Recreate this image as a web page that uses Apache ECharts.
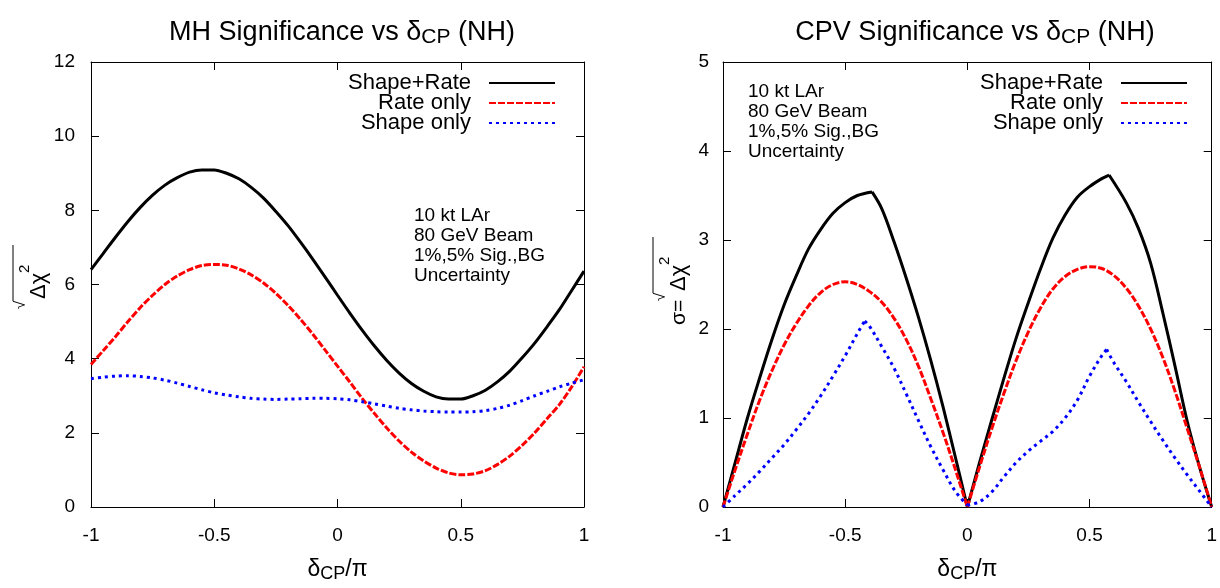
<!DOCTYPE html>
<html><head><meta charset="utf-8">
<script src="https://cdn.jsdelivr.net/npm/echarts@6/dist/echarts.min.js"></script>
<style>html,body{margin:0;padding:0;background:#fff}#c{width:1220px;height:588px}</style>
</head><body><div id="c"></div>
<script>
// ---- data: MH significance (left panel) ----
const mhX = [-1,-0.95,-0.9,-0.85,-0.8,-0.75,-0.7,-0.65,-0.6,-0.55,-0.5,-0.45,-0.4,-0.35,-0.3,-0.25,-0.2,-0.15,-0.1,-0.05,0,0.05,0.1,0.15,0.2,0.25,0.3,0.35,0.4,0.45,0.5,0.55,0.6,0.65,0.7,0.75,0.8,0.85,0.9,0.95,1];
const mhShapeRate = [6.40,6.84,7.28,7.70,8.08,8.41,8.68,8.88,9.03,9.09,9.09,9.00,8.85,8.62,8.33,7.97,7.58,7.14,6.68,6.20,5.71,5.23,4.77,4.34,3.95,3.61,3.33,3.12,2.97,2.91,2.91,3.00,3.15,3.38,3.67,4.03,4.42,4.86,5.32,5.84,6.36];
const mhRateOnly = [3.84,4.22,4.60,5.00,5.38,5.71,6.00,6.23,6.40,6.51,6.54,6.52,6.42,6.26,6.04,5.76,5.43,5.06,4.66,4.23,3.80,3.37,2.93,2.52,2.13,1.78,1.48,1.24,1.05,0.92,0.87,0.89,0.98,1.15,1.38,1.67,2.00,2.38,2.76,3.24,3.78];
const mhShapeOnly = [3.46,3.50,3.53,3.54,3.52,3.48,3.42,3.34,3.25,3.16,3.08,3.02,2.97,2.93,2.91,2.90,2.91,2.92,2.93,2.93,2.92,2.89,2.84,2.78,2.72,2.66,2.62,2.59,2.57,2.56,2.56,2.57,2.60,2.66,2.75,2.87,3.00,3.12,3.24,3.34,3.43];

// ---- data: CPV significance (right panel) ----
const cpvSRX = [-1,-0.95,-0.9,-0.85,-0.8,-0.75,-0.7,-0.65,-0.6,-0.55,-0.5,-0.45,-0.39,-0.35,-0.3,-0.25,-0.2,-0.15,-0.1,-0.05,0,0.05,0.1,0.15,0.2,0.25,0.3,0.35,0.4,0.45,0.5,0.55,0.58,0.65,0.7,0.75,0.8,0.85,0.9,0.95,1];
const cpvShapeRate = [0,0.50,1.00,1.45,1.88,2.27,2.60,2.90,3.12,3.30,3.42,3.50,3.54,3.35,2.98,2.57,2.13,1.65,1.13,0.57,0,0.50,0.98,1.45,1.90,2.30,2.68,3.02,3.28,3.48,3.60,3.69,3.73,3.42,3.13,2.74,2.18,1.58,0.96,0.45,0];
const cpvSRKinks = [-0.39, 0, 0.58];
const cpvRX = [-1,-0.95,-0.9,-0.85,-0.8,-0.75,-0.7,-0.65,-0.6,-0.55,-0.5,-0.45,-0.4,-0.35,-0.3,-0.25,-0.2,-0.15,-0.1,-0.05,0,0.05,0.1,0.15,0.2,0.25,0.3,0.35,0.4,0.45,0.5,0.55,0.6,0.65,0.7,0.75,0.8,0.85,0.9,0.95,1];
const cpvRateOnly = [0,0.42,0.82,1.20,1.53,1.82,2.06,2.26,2.41,2.50,2.53,2.50,2.42,2.30,2.12,1.88,1.58,1.22,0.84,0.43,0,0.45,0.88,1.28,1.65,1.97,2.24,2.45,2.59,2.67,2.70,2.68,2.60,2.46,2.26,2.00,1.68,1.30,0.88,0.45,0];
const cpvRKinks = [0];
const cpvSX = [-1,-0.95,-0.9,-0.85,-0.8,-0.75,-0.7,-0.65,-0.6,-0.55,-0.5,-0.45,-0.42,-0.4,-0.35,-0.3,-0.25,-0.2,-0.15,-0.1,-0.05,0,0.05,0.1,0.15,0.2,0.25,0.3,0.35,0.4,0.45,0.5,0.55,0.57,0.6,0.65,0.7,0.75,0.8,0.85,0.9,0.95,1];
const cpvShapeOnly = [0,0.13,0.26,0.40,0.55,0.70,0.87,1.05,1.25,1.47,1.70,1.95,2.09,2.03,1.80,1.56,1.27,0.97,0.68,0.42,0.18,0.02,0.06,0.17,0.34,0.50,0.63,0.74,0.85,1.00,1.20,1.47,1.70,1.77,1.62,1.41,1.18,0.96,0.75,0.55,0.36,0.18,0];
const cpvSKinks = [-0.42, 0, 0.57];

const seriesNames = ['Shape+Rate','Rate only','Shape only'];
const noteLines = ['10 kt LAr','80 GeV Beam','1%,5% Sig.,BG','Uncertainty'];

const FONT = 'Liberation Sans';
const zip = (xs, ys) => xs.map((x, i) => [x, ys[i]]);
// split a curve into pieces at its kink points (kink point belongs to both pieces)
function pieces(xs, ys, kinks){
  const out = []; let cur = [];
  xs.forEach((x, i) => {
    cur.push([x, ys[i]]);
    if (kinks.indexOf(x) >= 0 && cur.length > 1) { out.push(cur); cur = [[x, ys[i]]]; }
  });
  if (cur.length > 1) out.push(cur);
  return out;
}

const styles = [
  {color:'#000000', width:3, type:'solid'},
  {color:'#ff0000', width:3, type:[7,2]},
  {color:'#0000ff', width:3, type:[3,4]}
];

function xAxes(g){
  const base = {gridIndex:g, type:'value', min:-1, max:1, interval:0.5,
    axisLine:{show:true, onZero:false, lineStyle:{color:'#000', width:1}},
    axisTick:{show:true, inside:true, length:8, lineStyle:{color:'#000', width:1}},
    splitLine:{show:false}};
  return [
    Object.assign({}, base, {position:'bottom',
      axisLabel:{show:true, color:'#000', fontFamily:FONT, fontSize:19, margin:19},
      name:'{a|δ}{s|CP}{a|/π}', nameLocation:'middle', nameGap:50,
      nameTextStyle:{rich:{a:{fontFamily:FONT, fontSize:23, color:'#000', lineHeight:26},
                           s:{fontFamily:FONT, fontSize:18, color:'#000', lineHeight:14, verticalAlign:'bottom'}}}}),
    Object.assign({}, base, {position:'top', axisLabel:{show:false}})
  ];
}
function yAxes(g, max, step, margin){
  const base = {gridIndex:g, type:'value', min:0, max:max, interval:step,
    axisLine:{show:true, onZero:false, lineStyle:{color:'#000', width:1}},
    axisTick:{show:true, inside:true, length:8, lineStyle:{color:'#000', width:1}},
    splitLine:{show:false}};
  return [
    Object.assign({}, base, {position:'left', axisLabel:{show:true, color:'#000', fontFamily:FONT, fontSize:19, margin:margin}}),
    Object.assign({}, base, {position:'right', axisLabel:{show:false}})
  ];
}
function mkSeries(name, data, xi, yi, st, smooth){
  return {name:name, type:'line', xAxisIndex:xi, yAxisIndex:yi, data:data, smooth:smooth,
    symbol:'none', showSymbol:false, clip:true, animation:false,
    lineStyle:{color:st.color, width:st.width, type:st.type}, itemStyle:{color:st.color}};
}
function legend(right){
  return {data:seriesNames, orient:'vertical', right:right, top:72, align:'right', padding:0,
    itemWidth:66, itemHeight:14, itemGap:-2, selectedMode:false,
    itemStyle:{opacity:0},
    textStyle:{fontFamily:FONT, fontSize:22, color:'#000', padding:[0,13,0,0]}};
}
function titleOpt(txt, cx){
  return {text:'{a|' + txt + ' δ}{s|CP}{a| (NH)}', left:cx, top:13, textAlign:'center',
    textStyle:{rich:{a:{fontFamily:FONT, fontSize:27, fontWeight:'normal', color:'#000', lineHeight:30},
                     s:{fontFamily:FONT, fontSize:21, fontWeight:'normal', color:'#000', lineHeight:16, verticalAlign:'bottom'}}}};
}
function yName(x, y, withSigma){
  const f = (s) => s + 'px ' + FONT;
  const ch = [];
  let u = 2;
  if (withSigma) {
    ch.push({type:'text', x:u, y:-8, style:{text:'σ=', font:f(21), fill:'#000', verticalAlign:'middle', align:'left'}});
    u += 30;
  }
  ch.push({type:'text', x:u-6, y:-26, style:{text:'√', font:f(15), fill:'#000', verticalAlign:'middle', align:'left'}});
  ch.push({type:'line', shape:{x1:u+2, y1:-34, x2:u+58, y2:-34}, style:{stroke:'#000', lineWidth:1}});
  ch.push({type:'text', x:u+4, y:-8, style:{text:'Δχ', font:f(22), fill:'#000', verticalAlign:'middle', align:'left'}});
  ch.push({type:'text', x:u+30, y:-22, style:{text:'2', font:f(15), fill:'#000', verticalAlign:'middle', align:'left'}});
  return {type:'group', x:x, y:y, rotation:Math.PI/2, children:ch};
}

const series = [
  mkSeries(seriesNames[0], zip(mhX, mhShapeRate), 0, 0, styles[0], 0.3),
  mkSeries(seriesNames[1], zip(mhX, mhRateOnly), 0, 0, styles[1], 0.3),
  mkSeries(seriesNames[2], zip(mhX, mhShapeOnly), 0, 0, styles[2], 0.3)
];
pieces(cpvSRX, cpvShapeRate, cpvSRKinks).forEach(p => series.push(mkSeries(seriesNames[0], p, 2, 2, styles[0], 0.35)));
pieces(cpvRX, cpvRateOnly, cpvRKinks).forEach(p => series.push(mkSeries(seriesNames[1], p, 2, 2, styles[1], 0.35)));
pieces(cpvSX, cpvShapeOnly, cpvSKinks).forEach(p => series.push(mkSeries(seriesNames[2], p, 2, 2, styles[2], 0.35)));

const chart = echarts.init(document.getElementById('c'), null, {renderer:'canvas'});
chart.setOption({
  backgroundColor:'#ffffff',
  animation:false,
  title:[titleOpt('MH Significance vs', 337), titleOpt('CPV Significance vs', 970)],
  legend:[legend(664), legend(32)],
  grid:[
    {left:91, right:636, top:62, bottom:78, containLabel:false},
    {left:723, right:4, top:62, bottom:78, containLabel:false}
  ],
  xAxis:[...xAxes(0), ...xAxes(1)],
  yAxis:[...yAxes(0, 12, 2, 16), ...yAxes(1, 5, 1, 14)],
  series:series,
  graphic:[
    {type:'text', left:414, top:206, style:{text:noteLines.join('\n'), font:'19px ' + FONT, fill:'#000', lineHeight:20}},
    {type:'text', left:748, top:82, style:{text:noteLines.join('\n'), font:'19px ' + FONT, fill:'#000', lineHeight:20}},
    yName(47, 305, false),
    yName(687, 327, true)
  ]
});
</script></body></html>
